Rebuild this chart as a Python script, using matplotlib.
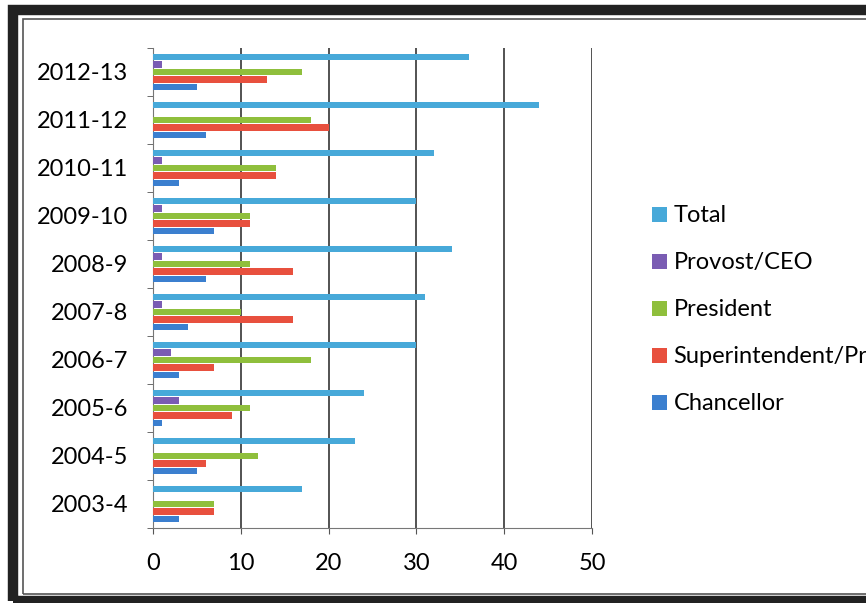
import numpy as np
import matplotlib.pyplot as plt
from matplotlib.patches import Rectangle

plt.rcParams['font.family'] = ['Lato', 'DejaVu Sans']

years = ["2003-4", "2004-5", "2005-6", "2006-7", "2007-8",
         "2008-9", "2009-10", "2010-11", "2011-12", "2012-13"]
chancellor = [3, 5, 1, 3, 4, 6, 7, 3, 6, 5]
superintendent = [7, 6, 9, 7, 16, 16, 11, 14, 20, 13]
president = [7, 12, 11, 18, 10, 11, 11, 14, 18, 17]
provost = [0, 0, 3, 2, 1, 1, 1, 1, 0, 1]
total = [17, 23, 24, 30, 31, 34, 30, 32, 44, 36]

series = [("Chancellor", chancellor, "#3b7fcf"),
          ("Superintendent/President", superintendent, "#e8503e"),
          ("President", president, "#8fbf3c"),
          ("Provost/CEO", provost, "#7a5cb3"),
          ("Total", total, "#47a9d9")]

fig = plt.figure(figsize=(8.66, 6.03), dpi=100)
ax = fig.add_axes([153 / 866, 75 / 603, 439 / 866, 480 / 603])

y = np.arange(len(years))
step = 0.154
for i, (name, vals, col) in enumerate(series):
    ax.barh(y + (i - 2) * step, vals, height=0.135, color=col, label=name, zorder=3)

ax.set_xlim(0, 50)
ax.set_ylim(-0.5, len(years) - 0.5)
ax.set_xticks(range(0, 51, 10))
ax.set_yticks(y)
ax.set_yticklabels(years)
ax.set_yticks(np.arange(-0.5, len(years), 1), minor=True)
ax.tick_params(axis='y', which='major', length=0, pad=18, labelsize=17)
ax.tick_params(axis='y', which='minor', length=4, color='#555555')
ax.tick_params(axis='x', length=4, color='#555555', pad=14, labelsize=17)
ax.grid(axis='x', color='#444444', linewidth=1.3, zorder=1)
for s in ['top', 'right']:
    ax.spines[s].set_visible(False)
ax.spines['left'].set_color('#777777')
ax.spines['bottom'].set_color('#777777')

# legend runs off the right edge, as in the scanned original
handles, labels = ax.get_legend_handles_labels()
fig.legend(handles[::-1], labels[::-1], loc='upper left',
           bbox_to_anchor=(643 / 866, 1 - 196 / 603), frameon=False,
           fontsize=17, handlelength=0.6, handleheight=0.6,
           handletextpad=0.3, labelspacing=1.1, borderaxespad=0)

# scanned double frame
fig.patches.append(Rectangle((13 / 866, 2 / 603), 1.2, 591 / 603,
                             transform=fig.transFigure, fill=False,
                             edgecolor='#222222', linewidth=7.5))
fig.patches.append(Rectangle((23 / 866, 9 / 603), 1.2, 575 / 603,
                             transform=fig.transFigure, fill=False,
                             edgecolor='#555555', linewidth=1.2))

fig.savefig("out.png", dpi=100)
plt.close(fig)
